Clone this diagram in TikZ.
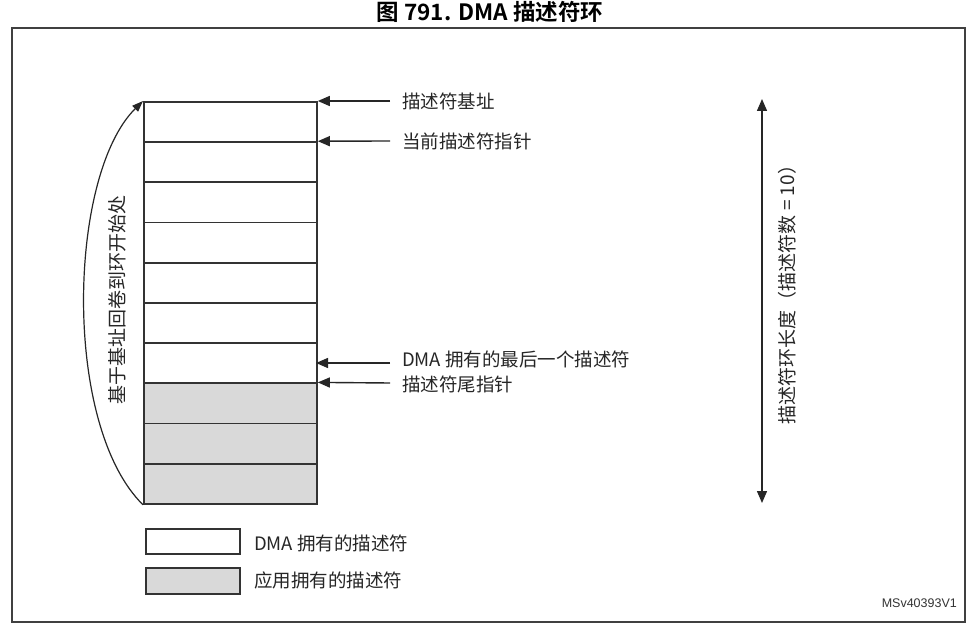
\documentclass[tikz,border=0pt]{standalone}
\usepackage{fontspec}
\setmainfont{Noto Sans CJK SC}
\newfontfamily\titlefont{Noto Sans CJK SC Bold}
\newfontfamily\codefont{Liberation Sans}
\usetikzlibrary{arrows.meta}
\begin{document}
\begin{tikzpicture}[x=1pt,y=-1pt,
  ln/.style={line width=1.8pt,draw=black!80},
  slot/.style={ln,minimum width=173pt,minimum height=40.2pt,inner sep=0pt,anchor=north west},
  appslot/.style={slot,fill=black!15},
  ptr/.style={line width=1.4pt,draw=black!85,-{Triangle[length=12pt,width=10pt]}},
  lbl/.style={anchor=west,inner sep=0pt,font=\fontsize{18.5}{20}\selectfont,text=black!85},
  vlbl/.style={rotate=90,inner sep=0pt,font=\fontsize{19}{21}\selectfont,text=black!85},
  leg/.style={ln,minimum width=94pt,minimum height=25pt,inner sep=0pt,anchor=north west}
]
\useasboundingbox (0,0) rectangle (977,631);
\fill[white] (0,0) rectangle (977,631);
% title
\node[font=\titlefont\fontsize{22.5}{24}\selectfont,inner sep=0pt] (title) at (490,12) {图 791. DMA 描述符环};
% frame
\draw[line width=1.6pt,draw=black!75] (12,28) rectangle (965,622);
% descriptor slots
\foreach \i in {0,...,6} {
  \node[slot] (s\i) at (143,{101+40.2*\i}) {};
}
\foreach \i in {7,8,9} {
  \node[appslot] (s\i) at (143,{101+40.2*\i}) {};
}
% pointer labels
\node[lbl] (l1) at (402,101) {描述符基址};
\node[lbl] (l2) at (402,141) {当前描述符指针};
\node[lbl] (l3) at (402,359) {DMA 拥有的最后一个描述符};
\node[lbl] (l4) at (402,384) {描述符尾指针};
\coordinate (t1) at (390,101);
\coordinate (t2) at (390,141);
\coordinate (t3) at (390,363);
\coordinate (t4) at (390,383);
\draw[ptr] (t1) -- (s0.north east);
\draw[ptr] (t2) -- (s1.north east);
\draw[ptr] (t3) -- (316,363);
\draw[ptr] (t4) -- (s7.north east);
% wrap-around arrow
\draw[line width=1.2pt,draw=black!85,-{Triangle[length=11pt,width=8pt]}]
  (s9.south west) .. controls (62,425) and (68,175) .. (s0.north west);
\node[vlbl] (wrap) at (117,300) {基于基址回卷到环开始处};
% ring length arrow
\coordinate (rt) at (762,99);
\coordinate (rb) at (762,503);
\draw[line width=1.4pt,draw=black!85,{Triangle[length=12pt,width=10pt]}-{Triangle[length=12pt,width=10pt]}] (rt) -- (rb);
\node[vlbl] (rlen) at (787,290) {描述符环长度（描述符数 = 10）};
% legend
\node[leg] (lg1) at (145,528) {};
\node[leg,fill=black!15,minimum height=26pt] (lg2) at (145,567) {};
\node[lbl] (lt1) at (254,543) {DMA 拥有的描述符};
\node[lbl] (lt2) at (254,580) {应用拥有的描述符};
% figure id
\node[anchor=east,inner sep=0pt,font=\codefont\fontsize{12.5}{14}\selectfont,text=black!80] (fid) at (957,603) {MSv40393V1};
\end{tikzpicture}
\end{document}
